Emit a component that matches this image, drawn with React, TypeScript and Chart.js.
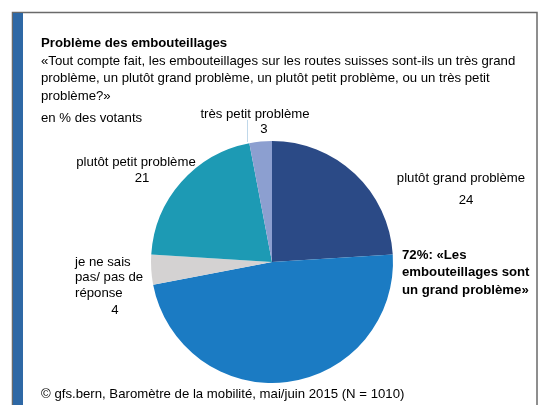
import React, { useEffect, useRef } from "react";
import { Chart, registerables } from "chart.js";

Chart.register(...registerables);

const categories = [
  "plutôt grand problème",
  "très grand problème",
  "je ne sais pas/ pas de réponse",
  "plutôt petit problème",
  "très petit problème",
];
const values = [24, 48, 4, 21, 3];
const colors = ["#2b4a86", "#1b7bc3", "#d4d2d2", "#1d9ab4", "#8c9fd0"];

const titleText = "Problème des embouteillages";
const questionLines = [
  "«Tout compte fait, les embouteillages sur les routes suisses sont-ils un très grand",
  "problème, un plutôt grand problème, un plutôt petit problème, ou un très petit",
  "problème?»",
];
const unitText = "en % des votants";
const dkLines = ["je ne sais", "pas/ pas de", "réponse"];
const noteLines = ["72%: «Les", "embouteillages sont", "un grand problème»"];
const footerText = "© gfs.bern, Baromètre de la mobilité, mai/juin 2015 (N = 1010)";

const FONT = "'Liberation Sans', Arial, sans-serif";
const FS = 13.2;

const framePlugin = {
  id: "frame",
  beforeDraw(chart: any) {
    const ctx = chart.ctx;
    ctx.save();
    ctx.fillStyle = "#ffffff";
    ctx.fillRect(0, 0, chart.width, chart.height);
    ctx.strokeStyle = "#6a6a6a";
    ctx.lineWidth = 1.5;
    ctx.strokeRect(12.5, 12.5, 524.5, 420);
    ctx.fillStyle = "#2e68a5";
    ctx.fillRect(13, 13, 10, 400);
    ctx.restore();
  },
  afterDraw(chart: any) {
    const ctx = chart.ctx;
    const meta = chart.getDatasetMeta(0);
    const arc0 = meta.data[0];
    const cy = arc0.y;
    const r = arc0.outerRadius;
    ctx.save();
    ctx.fillStyle = "#000000";
    ctx.textBaseline = "middle";
    ctx.textAlign = "left";
    ctx.font = `bold ${FS}px ${FONT}`;
    ctx.fillText(titleText, 41, 43);
    ctx.font = `${FS}px ${FONT}`;
    questionLines.forEach((l, i) => ctx.fillText(l, 41, 61 + i * 17.5));
    ctx.fillText(unitText, 41, 118);
    ctx.fillText(footerText, 41, 394);

    const lbl = (lines: string[], x: number, y: number, align: CanvasTextAlign, lh = 16) => {
      ctx.textAlign = align;
      lines.forEach((l, i) => ctx.fillText(l, x, y + i * lh));
    };
    lbl([categories[4]], 255, 114, "center");
    lbl([String(values[4])], 264, 129, "center");
    lbl([categories[3]], 136, 162, "center");
    lbl([String(values[3])], 142, 178, "center");
    lbl([categories[0]], 461, 178, "center");
    lbl([String(values[0])], 466, 200, "center");
    lbl(dkLines, 75, 262, "left", 15.5);
    lbl([String(values[2])], 115, 310, "center");

    ctx.strokeStyle = "rgba(150,190,220,0.6)";
    ctx.lineWidth = 1;
    ctx.beginPath();
    ctx.moveTo(247.5, 120);
    ctx.lineTo(247.5, cy - r + 1);
    ctx.stroke();

    ctx.textAlign = "left";
    ctx.font = `bold ${FS}px ${FONT}`;
    noteLines.forEach((l, i) => ctx.fillText(l, 402, 255 + i * 17.5));
    ctx.restore();
  },
};

export default function App() {
  const ref = useRef<HTMLCanvasElement>(null);
  useEffect(() => {
    if (!ref.current) return;
    const chart = new Chart(ref.current, {
      type: "pie",
      data: {
        labels: categories,
        datasets: [
          {
            data: values,
            backgroundColor: colors,
            borderWidth: 0,
          },
        ],
      },
      options: {
        animation: false,
        responsive: false,
        devicePixelRatio: 1,
        layout: { padding: { left: 151, right: 153, top: 141, bottom: 22 } },
        plugins: {
          legend: { display: false },
          title: { display: false },
          tooltip: { enabled: false },
        },
      },
      plugins: [framePlugin],
    });
    return () => chart.destroy();
  }, []);
  return (
    <div style={{ position: "fixed", left: 0, top: 0, width: 546, height: 405 }}>
      <canvas ref={ref} width={546} height={405} style={{ width: 546, height: 405 }} />
    </div>
  );
}
